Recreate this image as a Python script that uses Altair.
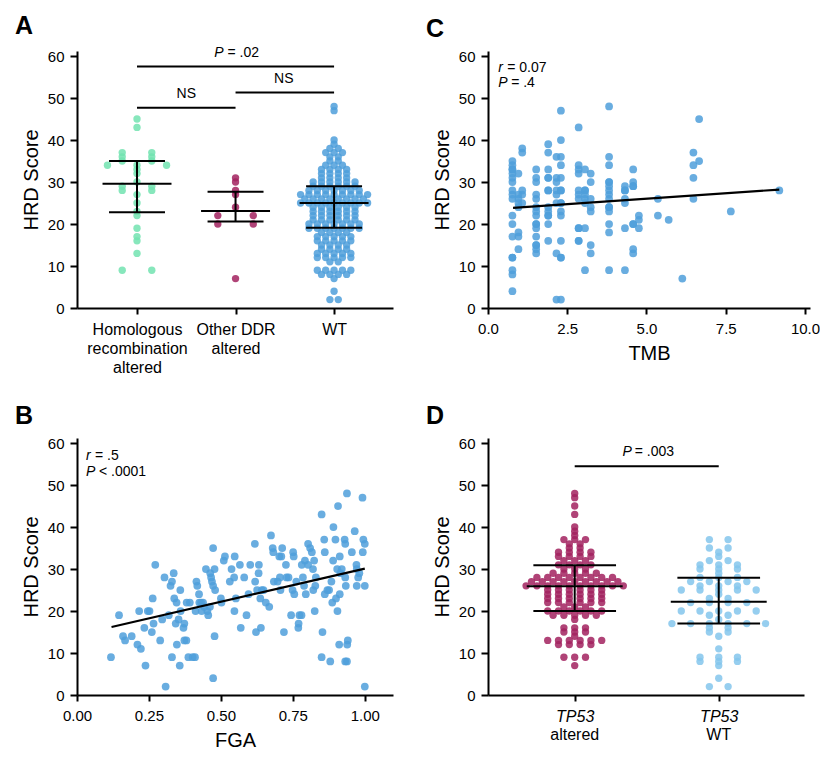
import altair as alt
import pandas as pd

FONT = "Liberation Sans"

# ---------------- Panel A data ----------------
a_hr = [45, 43, 37, 37, 36, 36, 35, 35, 34, 34, 34, 33, 32, 30, 29, 29, 28, 28,
        27, 25, 23, 22, 19, 17, 16, 13, 9, 9]
a_ddr = [31, 30, 28, 27, 24, 22, 22, 20, 20, 7]
a_wt = [48, 47, 40, 39, 38, 38, 37, 37, 37, 36, 36, 35, 35, 34, 34, 34,
        33, 33, 33, 33, 32, 32, 32, 32, 31, 31, 31, 31,
        30, 30, 30, 30, 30, 30, 29, 29, 29, 29, 29, 29,
        28, 28, 28, 28, 28, 28, 28, 27, 27, 27, 27, 27, 27, 27, 27, 27,
        26, 26, 26, 26, 26, 26, 26, 26, 25, 25, 25, 25, 25, 25, 25, 25, 25,
        24, 24, 24, 24, 24, 24, 23, 23, 23, 23, 23, 23, 22, 22, 22, 22, 22, 22,
        21, 21, 21, 21, 21, 21, 20, 20, 20, 20, 20, 20, 20,
        19, 19, 19, 19, 19, 19, 19, 18, 18, 18, 18, 17, 17, 17, 17, 17,
        16, 16, 16, 16, 16, 15, 15, 15, 15, 14, 14, 14, 14,
        13, 13, 13, 13, 13, 12, 12, 12, 12, 12, 11, 11,
        9, 9, 9, 9, 9, 8, 8, 8, 8, 7, 4, 2, 2]
a_keys = ["HR", "DDR", "WT"]
a_median = [29.6, 23.1, 25.0]
a_q1 = [22.8, 20.6, 19.1]
a_q3 = [35.0, 27.7, 29.0]
a_brk_x1 = [1, 1, 2]
a_brk_x2 = [3, 2, 3]
a_brk_y = [57.5, 47.7, 51.3]
a_txt_x = [1.5, 2.49]
a_txt_y = [50.0, 53.6]
a_txt = ["NS", "NS"]
a_p_x = [2.0]
a_p_y = [59.8]
a_p_val = ["= .02"]

# ---------------- Panel B data ----------------
fga_x = [0.118, 0.146, 0.160, 0.167, 0.19, 0.21, 0.216, 0.222, 0.238, 0.234, 0.246, 0.252, 0.26,
         0.263, 0.266, 0.272, 0.289, 0.296, 0.304, 0.308, 0.319, 0.325, 0.33, 0.33, 0.336, 0.338,
         0.343, 0.346, 0.347, 0.353, 0.357, 0.359, 0.36, 0.37, 0.373, 0.373, 0.38, 0.381, 0.387,
         0.392, 0.402, 0.41, 0.412, 0.415, 0.418, 0.424, 0.425, 0.431, 0.433, 0.438, 0.442, 0.448,
         0.453, 0.456, 0.462, 0.463, 0.466, 0.469, 0.473, 0.473, 0.478, 0.478, 0.473, 0.48, 0.5,
         0.502, 0.51, 0.514, 0.531, 0.537, 0.546, 0.547, 0.548, 0.552, 0.566, 0.569, 0.581, 0.589,
         0.596, 0.602, 0.618, 0.619, 0.622, 0.626, 0.632, 0.631, 0.637, 0.639, 0.642, 0.648, 0.656,
         0.668, 0.674, 0.68, 0.682, 0.684, 0.697, 0.703, 0.707, 0.71, 0.705, 0.713, 0.719, 0.726,
         0.728, 0.735, 0.744, 0.749, 0.751, 0.753, 0.755, 0.762, 0.769, 0.77, 0.773, 0.78, 0.781,
         0.785, 0.789, 0.792, 0.795, 0.803, 0.803, 0.81, 0.816, 0.82, 0.821, 0.824, 0.826, 0.83,
         0.828, 0.85, 0.853, 0.85, 0.859, 0.861, 0.861, 0.87, 0.876, 0.88, 0.884, 0.887, 0.89,
         0.891, 0.898, 0.9, 0.904, 0.905, 0.907, 0.911, 0.913, 0.913, 0.915, 0.92, 0.93, 0.932,
         0.932, 0.934, 0.932, 0.938, 0.938, 0.939, 0.941, 0.955, 0.965, 0.971, 0.972, 0.972, 0.977,
         0.981, 0.992, 0.993, 0.995, 1.0, 1.0, 1.0]
fga_hrd = [9, 19, 14, 13, 14, 12, 20, 11, 7, 16, 20, 20, 15,
           23, 17, 31, 13, 18, 28, 2, 19, 26, 27, 9, 29, 23,
           17, 22, 12, 18, 7, 25, 20, 16, 17, 13, 13, 22, 9,
           22, 9, 9, 20, 27, 26, 24, 22, 22, 20, 22, 21, 30,
           20, 19, 21, 29, 28, 27, 35, 26, 30, 14, 4, 25, 23,
           22, 32, 33, 27, 30, 28, 20, 33, 23, 31, 16, 28, 19,
           24, 31, 36, 27, 15, 25, 31, 29, 23, 16, 25, 25, 22,
           21, 38, 35, 34, 27, 27, 33, 25, 33, 28, 35, 15, 31,
           28, 28, 19, 25, 34, 33, 24, 27, 16, 17, 19, 19, 31,
           28, 26, 32, 24, 36, 31, 35, 34, 30, 25, 32, 20, 28,
           26, 43, 15, 9, 37, 34, 24, 25, 25, 8, 27, 22, 32,
           40, 37, 23, 30, 20, 45, 12, 33, 24, 29, 30, 37, 36,
           28, 26, 8, 48, 8, 12, 13, 34, 39, 31, 30, 26, 28,
           29, 47, 34, 37, 36, 26, 2]
fga_fit_x = [0.12, 1.0]
fga_fit_y = [16.2, 30.1]
b_stat_x = [0.031, 0.031]
b_stat_y = [56.0, 52.2]
b_stat_sym = ["r", "P"]
b_stat_val = ["= .5", "< .0001"]

# ---------------- Panel C data ----------------
tmb_x = ([0.77] * 18 + [0.96] * 8 + [1.08] * 5 + [1.52] * 16 + [1.90] * 13 + [2.16] * 8 +
         [2.30] * 15 + [2.86] * 11 + [3.06] * 8 + [3.24] * 7 + [3.82] * 15 + [4.32] * 7 +
         [4.58] * 8 + [4.76] * 3 + [5.36] * 2 + [5.70] + [6.13] + [6.48] * 4 + [6.66] * 2 +
         [7.66] + [9.19])
tmb_hrd = [35, 34, 33, 33, 32, 31, 30, 28, 27, 26, 22, 20, 17, 12, 12, 9, 8, 4,
           32, 27, 26, 25, 24, 18, 17, 14,
           38, 37, 28, 27, 25,
           33, 31, 30, 27, 26, 24, 23, 22, 20, 20, 19, 17, 15, 15, 14, 13,
           39, 37, 33, 31, 31, 28, 28, 24, 23, 22, 22, 20, 16,
           36, 31, 30, 28, 27, 25, 13, 2,
           47, 40, 36, 34, 31, 28, 28, 25, 25, 23, 22, 16, 12, 12, 2,
           43, 34, 33, 32, 28, 27, 26, 19, 19, 16, 16,
           33, 28, 28, 27, 26, 25, 19, 9,
           32, 30, 26, 24, 23, 15, 13,
           48, 36, 34, 30, 30, 29, 28, 27, 26, 24, 24, 23, 20, 18, 9,
           29, 28, 28, 26, 25, 19, 9,
           33, 30, 29, 29, 20, 20, 14, 13,
           22, 21, 19,
           26, 22,
           21,
           7,
           37, 34, 31, 26,
           45, 35,
           23,
           28]
tmb_fit_x = [0.79, 9.19]
tmb_fit_y = [23.85, 28.2]
c_stat_x = [0.32, 0.32]
c_stat_y = [56.2, 52.6]
c_stat_sym = ["r", "P"]
c_stat_val = ["= 0.07", "= .4"]

# ---------------- Panel D data ----------------
d_alt = [48, 47, 45, 43, 40, 39, 38, 37, 37, 37, 36, 36, 35, 35, 34, 34, 34, 34,
         33, 33, 33, 33, 32, 32, 32, 31, 31, 31, 31, 30, 30, 30, 29, 29, 29, 29, 29,
         28, 28, 28, 28, 28, 28, 28, 28, 27, 27, 27, 27, 27, 27, 27, 27, 27,
         26, 26, 26, 26, 26, 26, 26, 26, 26, 26, 25, 25, 25, 25, 25, 25,
         24, 24, 24, 24, 24, 24, 23, 23, 23, 23, 23, 23, 22, 22, 22, 22, 22, 22,
         21, 21, 21, 20, 20, 20, 20, 20, 20, 19, 19, 19, 19, 19, 18,
         16, 16, 16, 15, 15, 15, 14, 13, 13, 13, 13, 13, 13, 12, 12, 12, 12, 9, 9, 9, 7]
d_wt = [37, 37, 35, 35, 34, 33, 32, 32, 31, 31, 31, 30, 30, 30, 29, 28, 28, 28,
        27, 27, 27, 27, 26, 26, 26, 25, 25, 25, 25, 25, 24, 23, 23, 22, 22, 22, 22,
        20, 20, 20, 20, 20, 19, 19, 18, 17, 17, 17, 17, 17, 17, 16, 16, 15, 15, 14,
        11, 9, 9, 9, 8, 8, 8, 7, 4, 2, 2]
d_keys = ["ALT", "WT"]
d_line2 = ["altered", "WT"]
d_median = [25.9, 22.2]
d_q1 = [20.0, 17.0]
d_q3 = [30.9, 27.9]
d_brk_x1 = [1]
d_brk_x2 = [2]
d_brk_y = [54.5]
d_p_x = [1.5]
d_p_y = [56.8]
d_p_val = ["= .003"]

# ---------------- styles ----------------
GREEN = "#72e3b0"
PURPLE = "#a2225f"
BLUE = "#4f9fda"
LIGHT = "#84c5ec"
PT_SIZE = 54
PT_OP = 0.85

H = 257
W_A, W_B, W_C, W_D = 316, 316, 322, 316


def y_axis():
    return alt.Axis(title="HRD Score", values=[0, 10, 20, 30, 40, 50, 60], format="d",
                    grid=False, domainColor="black", domainWidth=2, tickColor="black",
                    tickWidth=2, tickSize=7, labelFontSize=15, labelColor="black",
                    labelPadding=6, labelFlush=False, titleFontSize=20,
                    titleFontWeight="normal", titleColor="black", titlePadding=6)


def x_axis(**kw):
    base = dict(grid=False, domainColor="black", domainWidth=2, tickColor="black",
                tickWidth=2, tickSize=6, labelFontSize=15, labelColor="black",
                labelPadding=7, labelFlush=False, labelOverlap=False, titleFontSize=20,
                titleFontWeight="normal", titleColor="black", titlePadding=7)
    base.update(kw)
    return alt.Axis(**base)


def panel_title(letter):
    return alt.TitleParams(letter, anchor="start", frame="group", dx=-62, fontSize=25,
                           fontWeight="bold", color="black", offset=7)


def ysc():
    return alt.Scale(domain=[0, 61.2], nice=False, zero=True)


class P:
    """Holds the shared scales and axes of one panel."""

    def __init__(self, xsc, ysc_, xax, yax):
        self.xsc, self.ysc, self.xax, self.yax = xsc, ysc_, xax, yax

    def X(self, f):
        return alt.X(f, scale=self.xsc, axis=self.xax)

    def Y(self, f):
        return alt.Y(f, scale=self.ysc, axis=self.yax)


def color_expr(keys, colors):
    expr = f"'{colors[-1]}'"
    for k, c in reversed(list(zip(keys[:-1], colors[:-1]))):
        expr = f"datum.key == '{k}' ? '{c}' : ({expr})"
    return expr


def swarm(df, p, colors, keys, spacing_expr):
    return alt.Chart(df).transform_window(
        rn="row_number()", groupby=["grp", "hrd"]
    ).transform_joinaggregate(
        cnt="count()", groupby=["grp", "hrd"]
    ).transform_calculate(
        sp=spacing_expr,
        xp="datum.grp + (datum.rn - (datum.cnt + 1) / 2) * datum.sp",
        col=color_expr(keys, colors),
    ).mark_circle(size=PT_SIZE, opacity=PT_OP).encode(
        x=p.X("xp:Q"), y=p.Y("hrd:Q"),
        color=alt.Color("col:N", scale=None, legend=None),
    )


def summary(grps, med, q1, q3, p, mhalf, ihalf):
    df = pd.DataFrame({"grp": grps, "med": med, "q1": q1, "q3": q3})
    base = alt.Chart(df).transform_calculate(
        mx1=f"datum.grp - {mhalf}", mx2=f"datum.grp + {mhalf}",
        ix1=f"datum.grp - {ihalf}", ix2=f"datum.grp + {ihalf}")
    rule = dict(color="black", strokeWidth=2)
    m = base.mark_rule(**rule).encode(x=p.X("mx1:Q"), x2="mx2:Q", y=p.Y("med:Q"))
    l1 = base.mark_rule(**rule).encode(x=p.X("ix1:Q"), x2="ix2:Q", y=p.Y("q1:Q"))
    l3 = base.mark_rule(**rule).encode(x=p.X("ix1:Q"), x2="ix2:Q", y=p.Y("q3:Q"))
    v = base.mark_rule(**rule).encode(x=p.X("grp:Q"), y=p.Y("q1:Q"), y2="q3:Q")
    return [m, l1, l3, v]


def brackets(x1, x2, y, p):
    df = pd.DataFrame({"x1": x1, "x2": x2, "y": y})
    return alt.Chart(df).mark_rule(color="black", strokeWidth=2).encode(
        x=p.X("x1:Q"), x2="x2:Q", y=p.Y("y:Q"))


def p_label(xs, ys, vals, p, p_dx, v_dx):
    df = pd.DataFrame({"x": xs, "y": ys, "val": vals, "sym": ["P"] * len(xs)})
    base = alt.Chart(df)
    t1 = base.mark_text(align="right", baseline="alphabetic", fontSize=14, fontStyle="italic",
                        color="black", dx=p_dx).encode(x=p.X("x:Q"), y=p.Y("y:Q"), text="sym:N")
    t2 = base.mark_text(align="left", baseline="alphabetic", fontSize=14, color="black",
                        dx=v_dx).encode(x=p.X("x:Q"), y=p.Y("y:Q"), text="val:N")
    return [t1, t2]


def stat_labels(xs, ys, syms, vals, p, val_dx):
    df = pd.DataFrame({"x": xs, "y": ys, "sym": syms, "val": vals})
    base = alt.Chart(df)
    t1 = base.mark_text(align="left", baseline="alphabetic", fontSize=14, fontStyle="italic",
                        color="black").encode(x=p.X("x:Q"), y=p.Y("y:Q"), text="sym:N")
    out = [t1]
    for s, dxv in val_dx.items():
        out.append(base.transform_filter(alt.datum.sym == s).mark_text(
            align="left", baseline="alphabetic", fontSize=14, color="black", dx=dxv).encode(
            x=p.X("x:Q"), y=p.Y("y:Q"), text="val:N"))
    return out


# ---------------- Panel A ----------------
ax_a = x_axis(title=None, values=[1, 2, 3], labelFontSize=16, labelLineHeight=19,
              labelPadding=7, labelBaseline="top",
              labelExpr="datum.value == 1 ? ['Homologous', 'recombination', 'altered'] : "
                        "(datum.value == 2 ? ['Other DDR', 'altered'] : 'WT')")
pa = P(alt.Scale(domain=[0.391, 3.598], nice=False, zero=False), ysc(), ax_a, y_axis())
df_a = pd.DataFrame({
    "grp": [1] * len(a_hr) + [2] * len(a_ddr) + [3] * len(a_wt),
    "key": [a_keys[0]] * len(a_hr) + [a_keys[1]] * len(a_ddr) + [a_keys[2]] * len(a_wt),
    "hrd": a_hr + a_ddr + a_wt,
})
pts_a = swarm(df_a, pa, [GREEN, PURPLE, BLUE], a_keys,
              "datum.grp == 1 ? 0.3 : (datum.grp == 2 ? 0.36 : 0.085)")
ns_df = pd.DataFrame({"x": a_txt_x, "y": a_txt_y, "t": a_txt})
ns_a = alt.Chart(ns_df).mark_text(align="center", baseline="alphabetic", fontSize=14,
                                  color="black").encode(x=pa.X("x:Q"), y=pa.Y("y:Q"), text="t:N")
panel_a = alt.layer(
    pts_a, *summary([1, 2, 3], a_median, a_q1, a_q3, pa, 0.35, 0.284),
    brackets(a_brk_x1, a_brk_x2, a_brk_y, pa), ns_a,
    *p_label(a_p_x, a_p_y, a_p_val, pa, -12, -8),
).properties(width=W_A, height=H, title=panel_title("A"))

# ---------------- Panel B ----------------
pb = P(alt.Scale(domain=[0, 1.098], nice=False, zero=False), ysc(),
       x_axis(title="FGA", values=[0, 0.25, 0.5, 0.75, 1.0], format=".2f"), y_axis())
df_b = pd.DataFrame({"fga": fga_x, "hrd": fga_hrd})
pts_b = alt.Chart(df_b).mark_circle(size=PT_SIZE + 6, opacity=PT_OP, color=BLUE).encode(
    x=pb.X("fga:Q"), y=pb.Y("hrd:Q"))
fit_b = alt.Chart(pd.DataFrame({"x": fga_fit_x, "y": fga_fit_y})).mark_line(
    color="black", strokeWidth=2.2).encode(x=pb.X("x:Q"), y=pb.Y("y:Q"))
panel_b = alt.layer(
    pts_b, fit_b,
    *stat_labels(b_stat_x, b_stat_y, b_stat_sym, b_stat_val, pb, {"r": 9, "P": 13}),
).properties(width=W_B, height=H, title=panel_title("B"))

# ---------------- Panel C ----------------
pc = P(alt.Scale(domain=[0, 10.158], nice=False, zero=False), ysc(),
       x_axis(title="TMB", values=[0, 2.5, 5, 7.5, 10], format=".1f"), y_axis())
df_c = pd.DataFrame({"tmb": tmb_x, "hrd": tmb_hrd})
pts_c = alt.Chart(df_c).mark_circle(size=PT_SIZE + 6, opacity=PT_OP, color=BLUE).encode(
    x=pc.X("tmb:Q"), y=pc.Y("hrd:Q"))
fit_c = alt.Chart(pd.DataFrame({"x": tmb_fit_x, "y": tmb_fit_y})).mark_line(
    color="black", strokeWidth=2.2).encode(x=pc.X("x:Q"), y=pc.Y("y:Q"))
panel_c = alt.layer(
    pts_c, fit_c,
    *stat_labels(c_stat_x, c_stat_y, c_stat_sym, c_stat_val, pc, {"r": 9, "P": 13}),
).properties(width=W_C, height=H, title=panel_title("C"))

# ---------------- Panel D ----------------
ax_d = x_axis(title=None, values=[1, 2], labelFontSize=16, labelPadding=7,
              labelBaseline="top", labelFontStyle="italic", labelExpr="'TP53'")
pd_ = P(alt.Scale(domain=[0.398, 2.592], nice=False, zero=False), ysc(), ax_d, y_axis())
df_d = pd.DataFrame({
    "grp": [1] * len(d_alt) + [2] * len(d_wt),
    "key": [d_keys[0]] * len(d_alt) + [d_keys[1]] * len(d_wt),
    "hrd": d_alt + d_wt,
})
pts_d = swarm(df_d, pd_, [PURPLE, LIGHT], d_keys, "datum.grp == 1 ? 0.075 : 0.13")
lab2_d = alt.Chart(pd.DataFrame({"grp": [1, 2], "lab": d_line2})).mark_text(
    baseline="top", fontSize=16, color="black").encode(
    x=pd_.X("grp:Q"), y=alt.value(H + 32), text="lab:N")
panel_d = alt.layer(
    pts_d, *summary([1, 2], d_median, d_q1, d_q3, pd_, 0.333, 0.287),
    brackets(d_brk_x1, d_brk_x2, d_brk_y, pd_),
    *p_label(d_p_x, d_p_y, d_p_val, pd_, -15, -12), lab2_d,
).properties(width=W_D, height=H, title=panel_title("D"))

top = alt.hconcat(panel_a, panel_c, spacing=33)
bottom = alt.hconcat(panel_b, panel_d, spacing=33)
chart = alt.vconcat(top, bottom, spacing=29).properties(
    padding={"left": 7, "top": 5, "right": 0, "bottom": 0}
).configure(font=FONT).configure_view(stroke=None).configure_text(font=FONT).configure_title(
    font=FONT)

chart.save("out.html", embed_options={"renderer": "svg", "actions": False})
